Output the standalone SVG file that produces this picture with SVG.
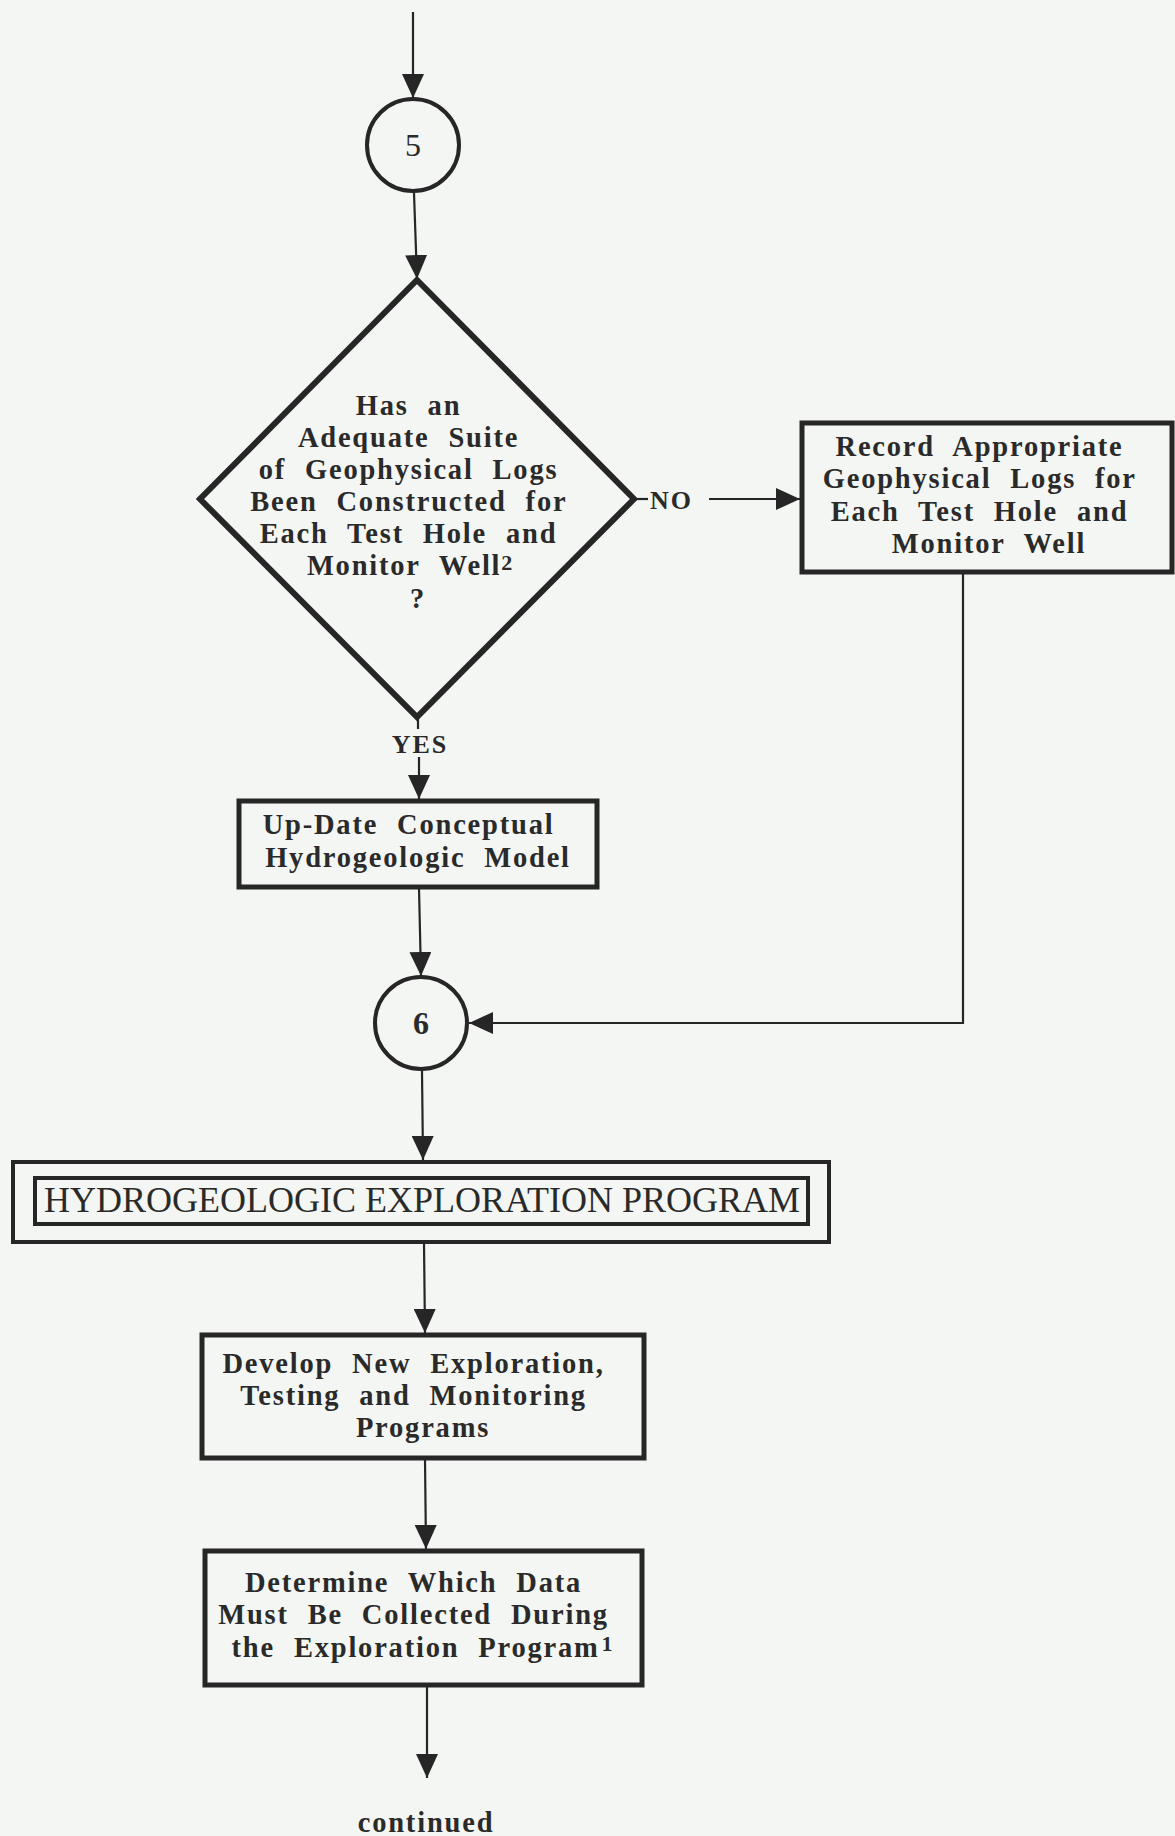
<svg xmlns="http://www.w3.org/2000/svg" width="1175" height="1836" viewBox="0 0 1175 1836">
  <defs>
    <style>
      .bg { fill: #f4f6f3; }
      .box { fill: none; stroke: #262626; stroke-width: 5; }
      .thin { fill: none; stroke: #262626; stroke-width: 4; }
      .dia { fill: none; stroke: #262626; stroke-width: 6; stroke-linejoin: miter; }
      .circ { fill: none; stroke: #262626; stroke-width: 4; }
      .wire { fill: none; stroke: #262626; stroke-width: 2.2; }
      .lbl { font-family: "Liberation Serif", "Times New Roman", serif; font-weight: bold; font-size: 28.5px; fill: #2a2a2a; text-anchor: middle; letter-spacing: 1.8px; word-spacing: 10px; }
      .tag { font-family: "Liberation Serif", "Times New Roman", serif; font-weight: bold; font-size: 26px; fill: #2a2a2a; letter-spacing: 2px; }
      .num { font-family: "Liberation Serif", "Times New Roman", serif; font-size: 32px; fill: #2a2a2a; text-anchor: middle; }
      .title { font-family: "Liberation Serif", "Times New Roman", serif; font-size: 36px; fill: #2a2a2a; text-anchor: middle; }
      .sup { font-size: 22px; }
    </style>
    <marker id="arrow" viewBox="0 0 24 22" refX="24" refY="11" markerWidth="24" markerHeight="22" markerUnits="userSpaceOnUse" orient="auto">
      <path d="M0,0 L24,11 L0,22 Z" fill="#262626"/>
    </marker>
  </defs>

  <rect class="bg" x="0" y="0" width="1175" height="1836"/>

  <!-- connectors -->
  <g id="connectors">
    <line class="wire" x1="413" y1="12" x2="413" y2="98" marker-end="url(#arrow)"/>
    <line class="wire" x1="414" y1="193" x2="417" y2="279" marker-end="url(#arrow)"/>
    <!-- NO branch -->
    <line class="wire" x1="634" y1="499" x2="648" y2="499"/>
    <line class="wire" x1="709" y1="499" x2="800" y2="499" marker-end="url(#arrow)"/>
    <!-- YES branch -->
    <line class="wire" x1="418" y1="718" x2="418" y2="729"/>
    <line class="wire" x1="419" y1="757" x2="419" y2="799" marker-end="url(#arrow)"/>
    <line class="wire" x1="419" y1="888" x2="421" y2="976" marker-end="url(#arrow)"/>
    <!-- return from record box -->
    <polyline class="wire" points="963,573 963,1023 469,1023" marker-end="url(#arrow)"/>
    <line class="wire" x1="422" y1="1071" x2="423" y2="1160" marker-end="url(#arrow)"/>
    <line class="wire" x1="424" y1="1243" x2="425" y2="1333" marker-end="url(#arrow)"/>
    <line class="wire" x1="425" y1="1459" x2="426" y2="1549" marker-end="url(#arrow)"/>
    <line class="wire" x1="427" y1="1686" x2="427" y2="1778" marker-end="url(#arrow)"/>
  </g>

  <!-- connector labels -->
  <text class="tag" x="650" y="509">NO</text>
  <text class="tag" x="420" y="753" text-anchor="middle">YES</text>

  <g id="node-5">
    <circle class="circ" cx="413" cy="145" r="46"/>
    <text class="num" x="413" y="156">5</text>
  </g>

  <g id="node-decision">
    <polygon class="dia" points="417,280 634,499 417,717 200,499"/>
    <text class="lbl">
      <tspan x="418" y="415">Has an</tspan>
      <tspan x="418" y="447">Adequate Suite</tspan>
      <tspan x="418" y="479">of Geophysical Logs</tspan>
      <tspan x="418" y="511">Been Constructed for</tspan>
      <tspan x="418" y="543">Each Test Hole and</tspan>
      <tspan x="420" y="575">Monitor Well<tspan class="sup" dy="-5">2</tspan></tspan>
      <tspan x="418" y="608">?</tspan>
    </text>
  </g>

  <g id="node-record">
    <rect class="box" x="802" y="423" width="370" height="149"/>
    <text class="lbl">
      <tspan x="989" y="456">Record Appropriate</tspan>
      <tspan x="989" y="488">Geophysical Logs for</tspan>
      <tspan x="989" y="521">Each Test Hole and</tspan>
      <tspan x="989" y="553">Monitor Well</tspan>
    </text>
  </g>

  <g id="node-update">
    <rect class="box" x="239" y="801" width="358" height="86"/>
    <text class="lbl">
      <tspan x="418" y="834">Up-Date Conceptual</tspan>
      <tspan x="418" y="867">Hydrogeologic Model</tspan>
    </text>
  </g>

  <g id="node-6">
    <circle class="circ" cx="421" cy="1023" r="46"/>
    <text class="num" x="421" y="1034" font-weight="bold">6</text>
  </g>

  <g id="node-program">
    <rect class="thin" x="13" y="1162" width="816" height="80"/>
    <rect class="thin" x="35" y="1178" width="773" height="46"/>
    <text class="title" x="422" y="1212">HYDROGEOLOGIC EXPLORATION PROGRAM</text>
  </g>

  <g id="node-develop">
    <rect class="box" x="202" y="1335" width="442" height="123"/>
    <text class="lbl">
      <tspan x="423" y="1373">Develop New Exploration,</tspan>
      <tspan x="423" y="1405">Testing and Monitoring</tspan>
      <tspan x="423" y="1437">Programs</tspan>
    </text>
  </g>

  <g id="node-determine">
    <rect class="box" x="205" y="1551" width="437" height="134"/>
    <text class="lbl">
      <tspan x="423" y="1592">Determine Which Data</tspan>
      <tspan x="423" y="1624">Must Be Collected During</tspan>
      <tspan x="423" y="1657">the Exploration Program<tspan class="sup" dy="-6" dx="2">1</tspan></tspan>
    </text>
  </g>

  <text class="lbl" x="426" y="1832">continued</text>
</svg>
